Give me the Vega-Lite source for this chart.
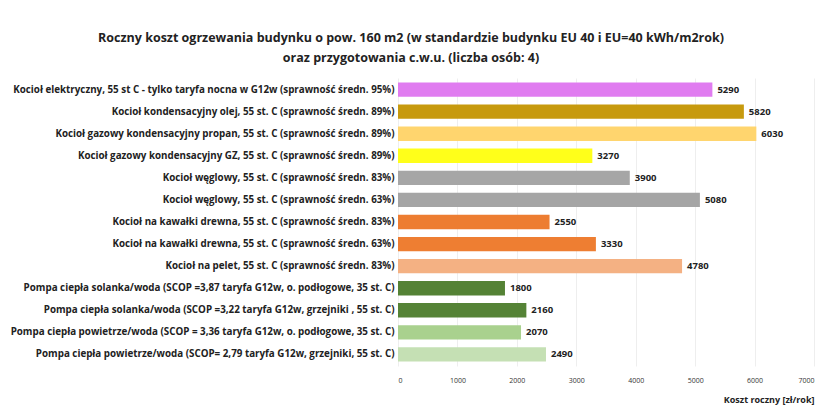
{
  "$schema": "https://vega.github.io/schema/vega-lite/v6.json",
  "autosize": "none",
  "width": 416,
  "height": 288,
  "padding": {"left": 398, "top": 78, "right": 21, "bottom": 54},
  "background": "white",
  "config": {"font": "Open Sans", "view": {"stroke": null}},
  "title": {
    "text": ["Roczny koszt ogrzewania budynku o pow. 160 m2 (w standardzie budynku EU 40 i EU=40 kWh/m2rok)", "oraz przygotowania c.w.u. (liczba osób: 4)"],
    "fontSize": 12.5, "fontWeight": "bold", "color": "#222", "anchor": "middle",
    "dx": -195, "offset": 14, "lineHeight": 20
  },
  "data": {"values": [
    {"n": "Kocioł  elektryczny, 55 st C - tylko taryfa nocna w G12w (sprawność średn. 95%)", "v": 5290, "c": "#e07cf0"},
    {"n": "Kocioł  kondensacyjny olej, 55 st. C (sprawność średn. 89%)", "v": 5820, "c": "#c79a0e"},
    {"n": "Kocioł gazowy kondensacyjny propan, 55 st. C (sprawność średn. 89%)", "v": 6030, "c": "#ffd56e"},
    {"n": "Kocioł gazowy kondensacyjny GZ, 55 st. C (sprawność średn. 89%)", "v": 3270, "c": "#ffff1a"},
    {"n": "Kocioł węglowy,  55 st. C (sprawność średn. 83%)", "v": 3900, "c": "#a6a6a6"},
    {"n": "Kocioł węglowy, 55 st. C (sprawność średn. 63%)", "v": 5080, "c": "#a5a5a5"},
    {"n": "Kocioł na kawałki drewna, 55 st. C (sprawność średn. 83%)", "v": 2550, "c": "#ed7d31"},
    {"n": "Kocioł na kawałki drewna, 55 st. C (sprawność średn. 63%)", "v": 3330, "c": "#ee7e32"},
    {"n": "Kocioł na pelet, 55 st. C (sprawność średn. 83%)", "v": 4780, "c": "#f4b183"},
    {"n": "Pompa ciepła solanka/woda (SCOP =3,87 taryfa G12w, o. podłogowe, 35 st. C)", "v": 1800, "c": "#548235"},
    {"n": "Pompa ciepła solanka/woda (SCOP =3,22 taryfa G12w, grzejniki , 55 st. C)", "v": 2160, "c": "#558336"},
    {"n": "Pompa ciepła powietrze/woda (SCOP = 3,36 taryfa G12w, o. podłogowe, 35 st. C)", "v": 2070, "c": "#a9d18e"},
    {"n": "Pompa ciepła powietrze/woda (SCOP= 2,79 taryfa G12w, grzejniki, 55 st. C)", "v": 2490, "c": "#c5e0b4"}
  ]},
  "encoding": {
    "y": {"field": "n", "type": "nominal", "sort": null, "title": null,
      "scale": {"paddingInner": 0.35, "paddingOuter": 0.2},
      "axis": {"domain": false, "ticks": false, "labelFontSize": 9.8, "labelFontWeight": "bold", "labelColor": "#222", "labelPadding": 4, "labelLimit": 400}},
    "x": {"field": "v", "type": "quantitative", "title": "Koszt roczny [zł/rok]",
      "scale": {"domain": [0, 7000]},
      "axis": {"values": [0,1000,2000,3000,4000,5000,6000,7000], "format": "d", "domain": false, "ticks": false, "grid": true, "gridColor": "#eeeeee",
        "labelFontSize": 7, "labelColor": "#333", "labelPadding": 10,
        "titleAnchor": "end", "titleFontSize": 9, "titleFontWeight": "bold", "titleColor": "#222", "titlePadding": 12}}
  },
  "layer": [
    {"mark": {"type": "bar"}, "encoding": {"color": {"field": "c", "type": "nominal", "scale": null}}},
    {"mark": {"type": "text", "align": "left", "dx": 5, "fontSize": 9.5, "fontWeight": "bold", "color": "#222"},
      "encoding": {"text": {"field": "v", "type": "quantitative"}}}
  ]
}
